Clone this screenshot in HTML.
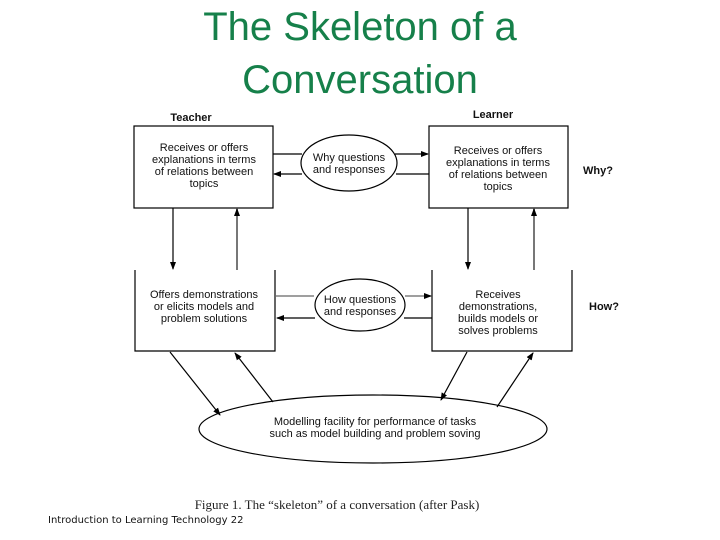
<!DOCTYPE html>
<html><head><meta charset="utf-8"><style>
html,body{margin:0;padding:0;background:#fff;width:720px;height:540px;overflow:hidden}
svg{display:block}
.s{font-family:"Liberation Sans",sans-serif;font-size:11px;fill:#111}
</style></head><body>
<svg width="720" height="540" viewBox="0 0 720 540">
<defs>
<marker id="a" markerWidth="8" markerHeight="8" refX="7" refY="4" orient="auto" markerUnits="userSpaceOnUse"><path d="M0,1 L8,4 L0,7 z" fill="#000"/></marker>
</defs>
<text x="360" y="40" text-anchor="middle" font-family="Liberation Sans,sans-serif" font-size="40" fill="#16804a">The Skeleton of a</text>
<text x="360" y="93" text-anchor="middle" font-family="Liberation Sans,sans-serif" font-size="40" fill="#16804a">Conversation</text>
<text x="191" y="121" text-anchor="middle" class="s" font-weight="bold" font-size="12">Teacher</text>
<text x="493" y="118" text-anchor="middle" class="s" font-weight="bold" font-size="12">Learner</text>
<text x="598" y="174" text-anchor="middle" class="s" font-weight="bold" font-size="12">Why?</text>
<text x="604" y="310" text-anchor="middle" class="s" font-weight="bold" font-size="12">How?</text>
<g fill="none" stroke="#000" stroke-width="1.2">
<rect x="134" y="126" width="139" height="82"/>
<rect x="429" y="126" width="139" height="82"/>
<path d="M135,270 V351 H275 V270"/>
<path d="M432,270 V351 H572 V270"/>
<ellipse cx="349" cy="163" rx="48" ry="28"/>
<ellipse cx="360" cy="305" rx="45" ry="26"/>
<ellipse cx="373" cy="429" rx="174" ry="34"/>
<line x1="273" y1="154" x2="302" y2="154"/>
<line x1="395" y1="154" x2="428" y2="154" marker-end="url(#a)"/>
<line x1="302" y1="174" x2="274" y2="174" marker-end="url(#a)"/>
<line x1="429" y1="174" x2="396" y2="174"/>
<line x1="275" y1="296" x2="314" y2="296" stroke="#666"/>
<line x1="405" y1="296" x2="431" y2="296" stroke="#666" marker-end="url(#a)"/>
<line x1="432" y1="318" x2="404" y2="318"/>
<line x1="315" y1="318" x2="277" y2="318" marker-end="url(#a)"/>
<line x1="173" y1="208" x2="173" y2="269" marker-end="url(#a)"/>
<line x1="237" y1="270" x2="237" y2="209" stroke="#777" stroke-width="2" marker-end="url(#a)"/>
<line x1="468" y1="208" x2="468" y2="269" marker-end="url(#a)"/>
<line x1="534" y1="270" x2="534" y2="209" stroke="#777" stroke-width="2" marker-end="url(#a)"/>
<line x1="170" y1="352" x2="220" y2="415" marker-end="url(#a)"/>
<line x1="273" y1="402" x2="235" y2="353" marker-end="url(#a)"/>
<line x1="467" y1="352" x2="441" y2="400" marker-end="url(#a)"/>
<line x1="497" y1="407" x2="533" y2="353" marker-end="url(#a)"/>
</g>
<g class="s" text-anchor="middle">
<text x="204" y="151">Receives or offers</text>
<text x="204" y="163">explanations in terms</text>
<text x="204" y="175">of relations between</text>
<text x="204" y="187">topics</text>
<text x="498" y="154">Receives or offers</text>
<text x="498" y="166">explanations in terms</text>
<text x="498" y="178">of relations between</text>
<text x="498" y="190">topics</text>
<text x="349" y="161">Why questions</text>
<text x="349" y="173">and responses</text>
<text x="204" y="298">Offers demonstrations</text>
<text x="204" y="310">or elicits models and</text>
<text x="204" y="322">problem solutions</text>
<text x="360" y="303">How questions</text>
<text x="360" y="315">and responses</text>
<text x="498" y="298">Receives</text>
<text x="498" y="310">demonstrations,</text>
<text x="498" y="322">builds models or</text>
<text x="498" y="334">solves problems</text>
<text x="375" y="425">Modelling facility for performance of tasks</text>
<text x="375" y="437">such as model building and problem soving</text>
</g>
<text x="337" y="509" text-anchor="middle" font-family="Liberation Serif,serif" font-size="13" fill="#222">Figure 1. The “skeleton” of a conversation (after Pask)</text>
<text x="48" y="523" font-family="DejaVu Sans,sans-serif" font-size="10" fill="#111">Introduction to Learning Technology  22</text>
</svg>
</body></html>
